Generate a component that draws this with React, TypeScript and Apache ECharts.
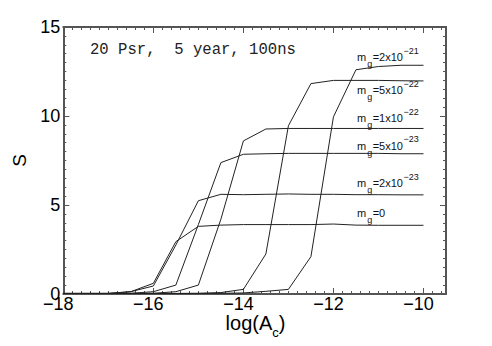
import React, { useEffect, useRef } from "react";
import * as echarts from "echarts";

// log(A_c) sample positions
const logA = [-18, -17.5, -17, -16.5, -16, -15.5, -15, -14.5, -14, -13.5, -13, -12.5, -12, -11.5, -11, -10.5, -10];

// S values per graviton mass
const s_2e21 = [0.03, 0.03, 0.03, 0.03, 0.03, 0.03, 0.03, 0.04, 0.06, 0.15, 0.26, 2.1, 9.95, 12.6, 12.78, 12.85, 12.85];
const s_5e22 = [0.03, 0.03, 0.03, 0.03, 0.03, 0.03, 0.04, 0.08, 0.26, 2.25, 9.45, 11.82, 12.0, 12.0, 12.0, 11.98, 11.97];
const s_1e22 = [0.03, 0.03, 0.03, 0.03, 0.04, 0.13, 0.5, 4.2, 8.6, 9.27, 9.3, 9.3, 9.3, 9.3, 9.3, 9.3, 9.3];
const s_5e23 = [0.03, 0.03, 0.03, 0.04, 0.13, 0.5, 3.9, 7.38, 7.85, 7.88, 7.9, 7.9, 7.9, 7.9, 7.9, 7.88, 7.88];
const s_2e23 = [0.03, 0.03, 0.03, 0.13, 0.45, 2.75, 5.24, 5.6, 5.58, 5.6, 5.62, 5.6, 5.6, 5.58, 5.58, 5.57, 5.57];
const s_0 = [0.03, 0.03, 0.03, 0.13, 0.6, 2.94, 3.8, 3.87, 3.9, 3.9, 3.9, 3.9, 3.93, 3.87, 3.86, 3.86, 3.86];

const seriesData = [s_2e21, s_5e22, s_1e22, s_5e23, s_2e23, s_0];
const labelMantissa = ["2x10", "5x10", "1x10", "5x10", "2x10", "0"];
const labelExponent = ["\u221221", "\u221222", "\u221222", "\u221223", "\u221223", ""];

const xTicks = [-18, -16, -14, -12, -10];
const yTicks = [0, 5, 10, 15];
const annotation = "20 Psr,  5 year, 100ns";
const xTitleMain = "log(A";
const xTitleSub = "c";
const yTitle = "S";

const SANS = "'Liberation Sans', Arial, Helvetica, sans-serif";
const MONO = "'Liberation Mono', 'Courier New', monospace";
const FRAME = "#555";
const LINE = "#222";

function textWidth(t: string, font: string): number {
  const ctx = document.createElement("canvas").getContext("2d");
  if (!ctx) return t.length * 6;
  ctx.font = font;
  return ctx.measureText(t).width;
}

export default function App() {
  const ref = useRef<HTMLDivElement>(null);
  useEffect(() => {
    if (!ref.current) return;
    const chart = echarts.init(ref.current, null, { renderer: "svg" });

    const gridL = 63.3, gridR = 46, gridT = 27, gridB = 52;

    const graphics: any[] = [];
    // annotation
    graphics.push({
      type: "text",
      x: 90,
      y: 50,
      style: { text: annotation, font: `15.6px ${MONO}`, fill: "#222", verticalAlign: "middle", align: "left" },
    });

    // mass labels
    const labelY = [57, 90, 118, 145.5, 183, 213];
    const mainSize = 11, subSize = 9;
    labelMantissa.forEach((mant, i) => {
      const x0 = 357;
      const yc = labelY[i];
      const mW = textWidth("m", `${mainSize}px ${SANS}`);
      const gW = textWidth("g", `${subSize}px ${SANS}`);
      const tW = textWidth("=" + mant, `${mainSize}px ${SANS}`);
      graphics.push({ type: "text", x: x0, y: yc, style: { text: "m", fontSize: mainSize, fontFamily: SANS, fill: "#111", verticalAlign: "middle" } });
      graphics.push({ type: "text", x: x0 + mW + 1, y: yc + 7, style: { text: "g", fontSize: subSize, fontFamily: SANS, fill: "#111", verticalAlign: "middle" } });
      graphics.push({ type: "text", x: x0 + mW + gW + 1.5, y: yc, style: { text: "=" + mant, fontSize: mainSize, fontFamily: SANS, fill: "#111", verticalAlign: "middle" } });
      if (labelExponent[i]) {
        graphics.push({ type: "text", x: x0 + mW + gW + 2 + tW, y: yc - 6.5, style: { text: labelExponent[i], fontSize: subSize, fontFamily: SANS, fill: "#111", verticalAlign: "middle" } });
      }
    });

    // x title with subscript
    const titleSize = 20;
    const tMainW = textWidth(xTitleMain, `${titleSize}px ${SANS}`);
    const tSubW = textWidth(xTitleSub, `13px ${SANS}`);
    const tParW = textWidth(")", `${titleSize}px ${SANS}`);
    const total = tMainW + tSubW + tParW;
    const cx = 255.5;
    const tx0 = cx - total / 2;
    graphics.push({ type: "text", x: tx0, y: 323, style: { text: xTitleMain, fontSize: titleSize, fontFamily: SANS, fill: "#000", verticalAlign: "middle" } });
    graphics.push({ type: "text", x: tx0 + tMainW, y: 332, style: { text: xTitleSub, fontSize: 13, fontFamily: SANS, fill: "#000", verticalAlign: "middle" } });
    graphics.push({ type: "text", x: tx0 + tMainW + tSubW, y: 323, style: { text: ")", fontSize: titleSize, fontFamily: SANS, fill: "#000", verticalAlign: "middle" } });

    const majorX = (pos: "top" | "bottom", labels: boolean) => ({
      type: "value",
      position: pos,
      min: xTicks[0],
      max: -9.5,
      interval: 2,
      axisLine: { show: true, onZero: false, lineStyle: { color: FRAME, width: 2 } },
      axisTick: { show: true, inside: true, length: 6, lineStyle: { color: FRAME, width: 1 } },
      axisLabel: {
        show: labels,
        showMaxLabel: false,
        fontSize: 18,
        fontFamily: SANS,
        color: "#000",
        margin: 1,
        padding: [0, 10, 0, 0],
        formatter: (v: number) => (xTicks.indexOf(v) >= 0 ? String(v).replace("-", "\u2212") : ""),
      },
      splitLine: { show: false },
    });
    const minorX = (pos: "top" | "bottom") => ({
      type: "value",
      position: pos,
      min: xTicks[0],
      max: -9.5,
      interval: 0.2,
      axisLine: { show: false, onZero: false },
      axisTick: { show: true, inside: true, length: 3, lineStyle: { color: FRAME, width: 1 } },
      axisLabel: { show: false },
      splitLine: { show: false },
    });
    const yAx = (pos: "left" | "right", labels: boolean) => ({
      type: "value",
      position: pos,
      min: yTicks[0],
      max: yTicks[yTicks.length - 1],
      interval: 5,
      name: labels ? yTitle : "",
      nameLocation: "middle",
      nameGap: 31,
      nameRotate: 90,
      nameTextStyle: { fontSize: 19, fontFamily: SANS, color: "#000" },
      axisLine: { show: true, onZero: false, lineStyle: { color: FRAME, width: 2 } },
      axisTick: { show: true, inside: true, length: 6, lineStyle: { color: FRAME, width: 1 } },
      minorTick: { show: true, splitNumber: 10, length: 3, lineStyle: { color: FRAME, width: 1 } },
      axisLabel: { show: labels, fontSize: 18, fontFamily: SANS, color: "#000", margin: 3 },
      splitLine: { show: false },
      minorSplitLine: { show: false },
    });

    chart.setOption({
      animation: false,
      backgroundColor: "#fff",
      grid: { left: gridL, right: gridR, top: gridT, bottom: gridB, containLabel: false, outerBoundsMode: "none" },
      xAxis: [majorX("bottom", true), minorX("bottom"), majorX("top", false), minorX("top")],
      yAxis: [yAx("left", true), yAx("right", false)],
      series: seriesData.map((d, i) => ({
        type: "line",
        name: "m_g=" + labelMantissa[i] + (labelExponent[i] ? "^" + labelExponent[i] : ""),
        xAxisIndex: 0,
        yAxisIndex: 0,
        data: logA.map((x, j) => [x, d[j]]),
        showSymbol: false,
        symbol: "none",
        lineStyle: { color: LINE, width: 1 },
        z: 3,
      })),
      graphic: graphics,
    });

    return () => chart.dispose();
  }, []);

  return <div ref={ref} style={{ position: "fixed", left: 0, top: 0, width: 492, height: 346 }} />;
}
